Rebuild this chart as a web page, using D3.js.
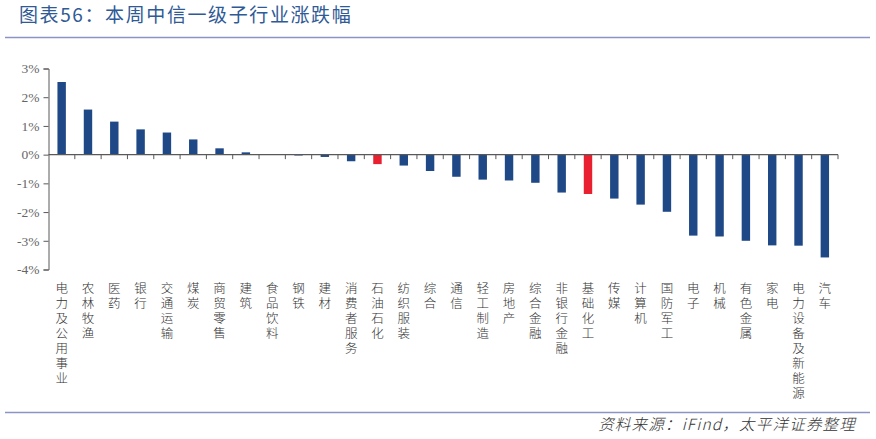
<!DOCTYPE html>
<html><head><meta charset="utf-8">
<script src="https://cdn.jsdelivr.net/npm/d3@7/dist/d3.min.js"></script>
<style>body{margin:0;background:#fff}svg{display:block}</style>
</head><body>
<svg id="c" width="876" height="439"></svg>
<script>
const categories = ["电力及公用事业","农林牧渔","医药","银行","交通运输","煤炭","商贸零售","建筑","食品饮料","钢铁","建材","消费者服务","石油石化","纺织服装","综合","通信","轻工制造","房地产","综合金融","非银行金融","基础化工","传媒","计算机","国防军工","电子","机械","有色金属","家电","电力设备及新能源","汽车"];
const values = [2.53,1.57,1.15,0.88,0.77,0.53,0.22,0.08,0.01,-0.03,-0.08,-0.23,-0.33,-0.38,-0.57,-0.77,-0.87,-0.90,-0.98,-1.32,-1.37,-1.53,-1.74,-1.99,-2.82,-2.85,-3.00,-3.16,-3.17,-3.58];
const highlighted = ["石油石化","基础化工"];
const yTicks = [3,2,1,0,-1,-2,-3,-4];
const title = "图表56：本周中信一级子行业涨跌幅";
const source = "资料来源：iFind，太平洋证券整理";

const svg = d3.select("#c");
const blue = "#1F4886", red = "#E8202F", axisCol = "#595959";

// title
svg.append("text").attr("x", 19).attr("y", 22).attr("fill", "#2F5A96")
  .attr("font-family", "Noto Sans CJK SC").attr("font-size", 19).attr("letter-spacing", 1.6)
  .text(title);
svg.append("line").attr("x1", 5).attr("x2", 870).attr("y1", 37.5).attr("y2", 37.5)
  .attr("stroke", "#8E93C6").attr("stroke-width", 1.6);
svg.append("line").attr("x1", 5).attr("x2", 870).attr("y1", 412.5).attr("y2", 412.5)
  .attr("stroke", "#8E93C6").attr("stroke-width", 1.6);
svg.append("text").attr("x", 856).attr("y", 430).attr("text-anchor", "end")
  .attr("fill", "#333").attr("font-family", "Noto Sans CJK SC").attr("font-size", 15.5)
  .attr("font-weight", 300).attr("font-style", "italic").attr("letter-spacing", 1.2).text(source);

const x = d3.scaleBand().domain(categories).range([48.5, 838]).paddingInner(0.68).paddingOuter(0.34);
const y = d3.scaleLinear().domain([-4, 3]).range([269.5, 68.5]);

// bars
svg.append("g").selectAll("rect").data(categories).join("rect")
  .attr("x", d => x(d))
  .attr("width", x.bandwidth())
  .attr("y", (d, i) => y(Math.max(0, values[i])))
  .attr("height", (d, i) => Math.abs(y(values[i]) - y(0)))
  .attr("fill", d => highlighted.includes(d) ? red : blue);

// y axis
const yAxis = d3.axisLeft(y).tickValues(yTicks).tickSize(5).tickFormat(d => d + "%");
const gy = svg.append("g").attr("transform", "translate(48.5,0)").call(yAxis);
gy.select(".domain").attr("stroke", axisCol);
gy.selectAll(".tick line").attr("stroke", axisCol);
gy.selectAll(".tick text").attr("fill", "#666").attr("font-family", "Liberation Serif")
  .attr("font-size", 13.5).attr("x", -9);

// zero line with band-boundary ticks
const step = x.step();
const x0 = 48.5;
const bounds = d3.range(categories.length + 1).map(i => x0 + i * step);
svg.append("line").attr("x1", x0).attr("x2", bounds[bounds.length-1]).attr("y1", y(0)).attr("y2", y(0))
  .attr("stroke", axisCol).attr("stroke-width", 1.2);
svg.append("g").selectAll("line").data(bounds.slice(1)).join("line")
  .attr("x1", d => d).attr("x2", d => d).attr("y1", y(0)).attr("y2", y(0) + 4.5)
  .attr("stroke", axisCol);

// vertical x labels, one character per line
const lab = svg.append("g").attr("font-family", "Noto Sans CJK SC").attr("font-size", 12.5)
  .attr("fill", "#333").attr("font-weight", 300);
categories.forEach(c => {
  const t = lab.append("text").attr("text-anchor", "middle");
  Array.from(c).forEach((ch, j) => {
    t.append("tspan").attr("x", x(c) + x.bandwidth()/2).attr("y", 293 + j * 15).text(ch);
  });
});
</script>
</body></html>
